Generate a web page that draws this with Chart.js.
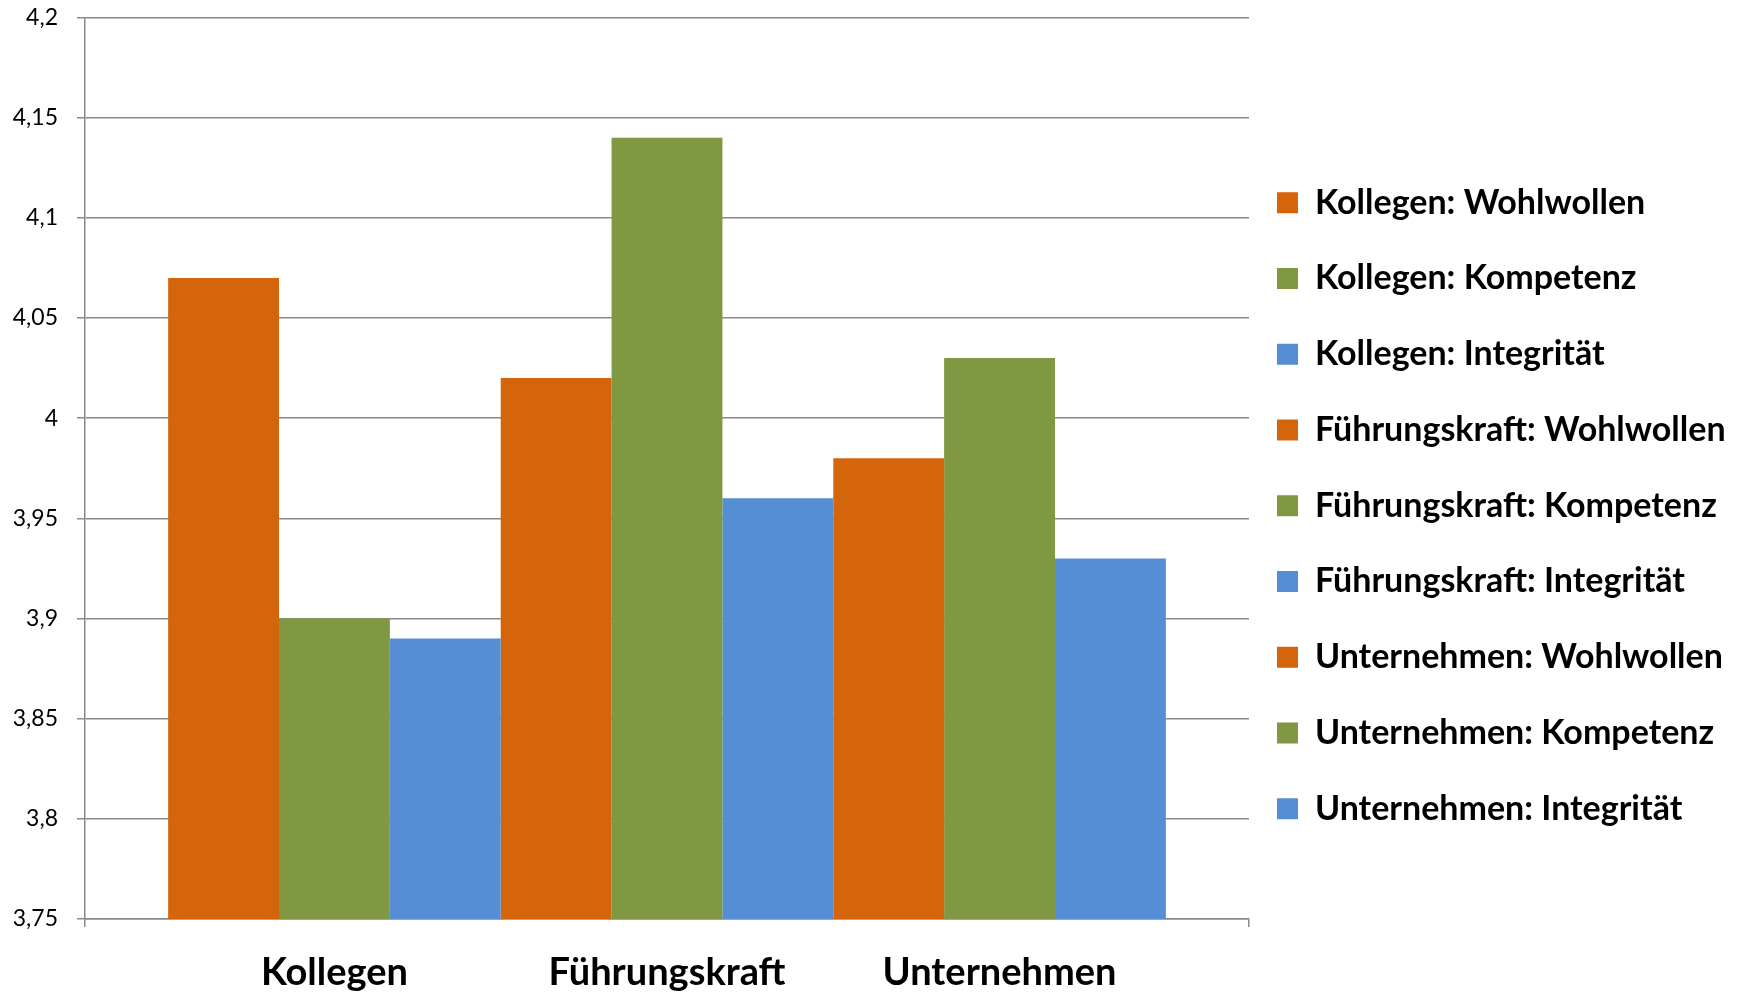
<!DOCTYPE html>
<html>
<head>
<meta charset="utf-8">
<script src="https://cdn.jsdelivr.net/npm/chart.js@4.4.1/dist/chart.umd.min.js"></script>
<style>
  html, body { margin: 0; padding: 0; background: #ffffff; }
  #wrap { position: relative; width: 1750px; height: 994px; }
</style>
</head>
<body>
<div id="wrap"><canvas id="chart" width="1750" height="994"></canvas></div>
<script>
// ---- data ----
const categories = ['Kollegen', 'Führungskraft', 'Unternehmen'];
const dimensions = ['Wohlwollen', 'Kompetenz', 'Integrität'];
const kollegenValues = [4.07, 3.90, 3.89];
const fuehrungskraftValues = [4.02, 4.14, 3.96];
const unternehmenValues = [3.98, 4.03, 3.93];
const yMin = 3.75, yMax = 4.2, yStep = 0.05;

const groupValues = [kollegenValues, fuehrungskraftValues, unternehmenValues];
const dimColors = ['#D4650A', '#7F9841', '#558ED5'];

const datasets = [];
categories.forEach((cat, ci) => {
  dimensions.forEach((dim, di) => {
    datasets.push({
      label: cat + ': ' + dim,
      data: categories.map((_, k) => (k === ci ? groupValues[ci][di] : null)),
      backgroundColor: dimColors[di],
      borderWidth: 0
    });
  });
});

const gridGray = '#898989';
const edge = 0.75; // outer margin of the plot, in category units

const legendNudge = {
  id: 'legendNudge',
  afterLayout(chart) {
    const lg = chart.legend;
    lg.left -= 13.75;
    lg.right = chart.width;
    lg.width = lg.right - lg.left;
  }
};

new Chart(document.getElementById('chart'), {
  type: 'bar',
  data: { labels: categories.map((_, i) => i), datasets },
  plugins: [legendNudge],
  options: {
    responsive: false,
    animation: false,
    layout: { padding: { top: 17.5, left: 0, right: 61, bottom: 0 } },
    datasets: { bar: { skipNull: true, categoryPercentage: 1 / edge, barPercentage: 1 } },
    plugins: {
      tooltip: { enabled: false },
      legend: {
        position: 'right',
        maxWidth: 440,
        labels: {
          color: '#000',
          boxWidth: 21, boxHeight: 21,
          padding: 41.75,
          font: { family: 'Lato', weight: 'bold', size: 34 }
        }
      }
    },
    scales: {
      x: {
        type: 'linear',
        min: -edge, max: categories.length - 1 + edge,
        offset: false,
        afterBuildTicks(scale) {
          scale.ticks = [-edge].concat(categories.map((_, i) => i), [categories.length - 1 + edge]).map(v => ({ value: v }));
        },
        afterFit(scale) { scale.height = 75; },
        grid: {
          offset: false,
          drawOnChartArea: false,
          drawTicks: true,
          tickLength: 8,
          lineWidth: 1.5,
          color: ctx => (ctx.tick && Number.isInteger(ctx.tick.value)) ? 'rgba(0,0,0,0)' : gridGray
        },
        border: { color: gridGray, width: 1.5 },
        ticks: {
          autoSkip: false, maxRotation: 0, minRotation: 0,
          padding: 23,
          color: '#000',
          font: { family: 'Lato', weight: 'bold', size: 38 },
          callback: v => (Number.isInteger(v) ? categories[v] : '')
        }
      },
      y: {
        min: yMin, max: yMax, beginAtZero: false,
        afterFit(scale) { scale.width = 85; scale.paddingTop = 0; scale.paddingBottom = 0; },
        ticks: {
          stepSize: yStep,
          padding: 19,
          color: '#000',
          font: { family: 'Lato', size: 23 },
          callback: v => String(+Number(v).toFixed(2)).replace('.', ',')
        },
        grid: { color: gridGray, lineWidth: 1.5, tickLength: 8 },
        border: { color: gridGray, width: 1.5 }
      }
    }
  }
});
</script>
</body>
</html>
